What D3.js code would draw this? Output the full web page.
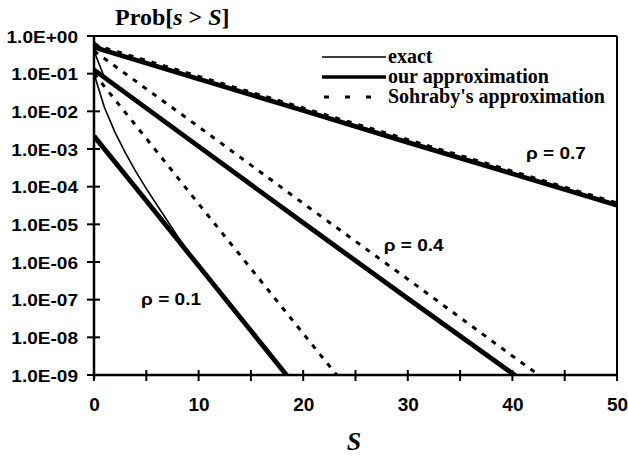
<!DOCTYPE html>
<html><head><meta charset="utf-8">
<script src="https://cdn.jsdelivr.net/npm/d3@7"></script>
<style>
html,body{margin:0;padding:0;background:#fff;}
svg{display:block;}
</style></head>
<body>
<svg id="chart" width="628" height="456"></svg>
<script>
// ---- data ----
const tickLabelsY = ["1.0E+00","1.0E-01","1.0E-02","1.0E-03","1.0E-04","1.0E-05","1.0E-06","1.0E-07","1.0E-08","1.0E-09"];
const tickValuesY = [1,1e-1,1e-2,1e-3,1e-4,1e-5,1e-6,1e-7,1e-8,1e-9];
const tickLabelsX = ["0","10","20","30","40","50"];
const tickValuesX = [0,10,20,30,40,50];
const minorTicksX = [5,15,25,35,45];

// rho = 0.1
const s01Exact  = [0,1,2,3,4,5,6,7,8,9,10,15,20];
const v01Exact  = [0.1,1.26e-2,2.8e-3,7.9e-4,2.5e-4,8.9e-5,3.3e-5,1.26e-5,4.8e-6,1.9e-6,7.9e-7,1.5e-8,2.8e-10];
const s01Our    = [0,5,10,15,20];
const v01Our    = [2.2e-3,4.2e-5,7.9e-7,1.5e-8,2.8e-10];
const s01Soh    = [0,5,10,15,20,25];
const v01Soh    = [0.1,1.9e-3,3.5e-5,6.7e-7,1.26e-8,2.4e-10];
// rho = 0.4
const s04Exact  = [0,1,10,20,30,40,45];
const v04Exact  = [0.4,7.9e-2,1.17e-3,1.1e-5,1.07e-7,1.1e-9,1.07e-10];
const s04Our    = [0,10,20,30,40,45];
const v04Our    = [0.126,1.17e-3,1.1e-5,1.07e-7,1.1e-9,1.07e-10];
const s04Soh    = [0,10,20,30,40,45];
const v04Soh    = [0.4,3.9e-3,3.6e-5,3.5e-7,3.2e-9,3.2e-10];
// rho = 0.7
const s07Exact  = [0,1,10,20,30,40,50];
const v07Exact  = [0.7,0.41,7.2e-2,1.05e-2,1.5e-3,2.2e-4,3.2e-5];
const s07Our    = [0,10,20,30,40,50];
const v07Our    = [0.5,7.2e-2,1.05e-2,1.5e-3,2.2e-4,3.2e-5];
const s07Soh    = [0,10,20,30,40,50];
const v07Soh    = [0.59,8.5e-2,1.23e-2,1.78e-3,2.57e-4,3.7e-5];

const legendLabels = ["exact","our approximation","Sohraby's approximation"];
const rhoLabels = [{t:"ρ = 0.7",s:41.3,v:5.5e-4},{t:"ρ = 0.4",s:27.7,v:2.0e-6},{t:"ρ = 0.1",s:4.5,v:7.1e-8}];

// ---- drawing ----
const svg = d3.select("#chart");
const X0=94, X1=617, Y0=36, Y1=375;
const x = d3.scaleLinear().domain([0,50]).range([X0,X1]);
const y = d3.scaleLog().domain([1e-9,1]).range([Y1,Y0]);

svg.append("defs").append("clipPath").attr("id","clip")
  .append("rect").attr("x",X0).attr("y",Y0).attr("width",X1-X0).attr("height",Y1-Y0);

const sans = "'Liberation Sans', Arial, sans-serif";
const serif = "'Liberation Serif', 'Times New Roman', serif";

function stretch(sel, f){
  sel.each(function(){ const w=this.getComputedTextLength(); d3.select(this).attr("textLength", w*f).attr("lengthAdjust","spacingAndGlyphs"); });
}

// frame
svg.append("line").attr("x1",X0).attr("x2",X1).attr("y1",Y0).attr("y2",Y0).attr("stroke","#000").attr("stroke-width",2);
svg.append("line").attr("x1",X1).attr("x2",X1).attr("y1",Y0).attr("y2",Y1+4).attr("stroke","#000").attr("stroke-width",2);

// lines
const line = d3.line().x(d=>x(d[0])).y(d=>y(d[1]));
const g = svg.append("g").attr("clip-path","url(#clip)");
function draw(sArr,vArr,style){
  const pts = sArr.map((s,i)=>[s,vArr[i]]);
  const p = g.append("path").datum(pts).attr("d",line).attr("fill","none").attr("stroke","#000")
    .attr("stroke-linejoin","round");
  if(style==="thick") p.attr("stroke-width",4.8);
  else if(style==="thin") p.attr("stroke-width",1.6);
  else p.attr("stroke-width",3).attr("stroke-dasharray","5,7");
}
draw(s07Our,v07Our,"thick"); draw(s07Exact,v07Exact,"thin"); draw(s07Soh,v07Soh,"dash");
draw(s04Our,v04Our,"thick"); draw(s04Exact,v04Exact,"thin"); draw(s04Soh,v04Soh,"dash");
draw(s01Our,v01Our,"thick"); draw(s01Exact,v01Exact,"thin"); draw(s01Soh,v01Soh,"dash");

// axes
const yAxis = d3.axisLeft(y).tickValues(tickValuesY).tickFormat((d,i)=>tickLabelsY[i]).tickSize(0);
const ya = svg.append("g").attr("transform",`translate(${X0},0)`).call(yAxis);
ya.select(".domain").remove();
ya.selectAll("text").attr("x",-16).attr("dy","0.36em").attr("font-family",sans).attr("font-weight","bold").attr("font-size",17).attr("fill","#000");
stretch(ya.selectAll("text"),1.12);
svg.append("line").attr("x1",X0).attr("x2",X0).attr("y1",Y0).attr("y2",Y1+4).attr("stroke","#000").attr("stroke-width",2.5);
svg.selectAll(".ytk").data(tickValuesY).join("line").attr("class","ytk")
  .attr("x1",X0-7).attr("x2",X0+6).attr("y1",d=>y(d)).attr("y2",d=>y(d)).attr("stroke","#000").attr("stroke-width",2);

const xAxis = d3.axisBottom(x).tickValues(tickValuesX).tickFormat((d,i)=>tickLabelsX[i]).tickSize(0);
const xa = svg.append("g").attr("transform",`translate(0,${Y1})`).call(xAxis);
xa.select(".domain").remove();
xa.selectAll("text").attr("y",36).attr("dy",0).attr("font-family",sans).attr("font-weight","bold").attr("font-size",19).attr("fill","#000");
svg.append("line").attr("x1",X0).attr("x2",X1).attr("y1",Y1).attr("y2",Y1).attr("stroke","#000").attr("stroke-width",2.5);
svg.selectAll(".xtk").data(tickValuesX.concat(minorTicksX)).join("line").attr("class","xtk")
  .attr("x1",d=>x(d)).attr("x2",d=>x(d)).attr("y1",Y1-5).attr("y2",Y1+6).attr("stroke","#000").attr("stroke-width",2);

// title
const t = svg.append("text").attr("x",115).attr("y",25).attr("font-family",serif).attr("font-weight","bold").attr("font-size",24).attr("fill","#000");
t.append("tspan").text("Prob[");
t.append("tspan").attr("font-style","italic").text("s");
t.append("tspan").text(" > ");
t.append("tspan").attr("font-style","italic").text("S");
t.append("tspan").text("]");

// x title
svg.append("text").attr("x",354).attr("y",450).attr("text-anchor","middle").attr("font-family",serif)
  .attr("font-weight","bold").attr("font-style","italic").attr("font-size",26).text("S");

// legend
const legY=[57,77,97];
const lg = svg.append("g");
legendLabels.forEach((lab,i)=>{
  const l = lg.append("line").attr("x1",322).attr("x2",386).attr("y1",legY[i]).attr("y2",legY[i]).attr("stroke","#000");
  if(i===0) l.attr("stroke-width",1.6);
  else if(i===1) l.attr("stroke-width",3.5);
  else l.attr("stroke-width",3).attr("stroke-dasharray","5,16").attr("x1",324);
  lg.append("text").attr("x",388).attr("y",legY[i]+6).attr("font-family",serif).attr("font-weight","bold")
    .attr("font-size",20).attr("fill","#000").text(lab);
});

// rho labels
const rl = svg.selectAll(".rho").data(rhoLabels).join("text").attr("class","rho")
  .attr("x",d=>x(d.s)).attr("y",d=>y(d.v)).attr("font-family",sans).attr("font-weight","bold").attr("font-size",17).text(d=>d.t);
stretch(rl,1.12);
</script>
</body></html>
